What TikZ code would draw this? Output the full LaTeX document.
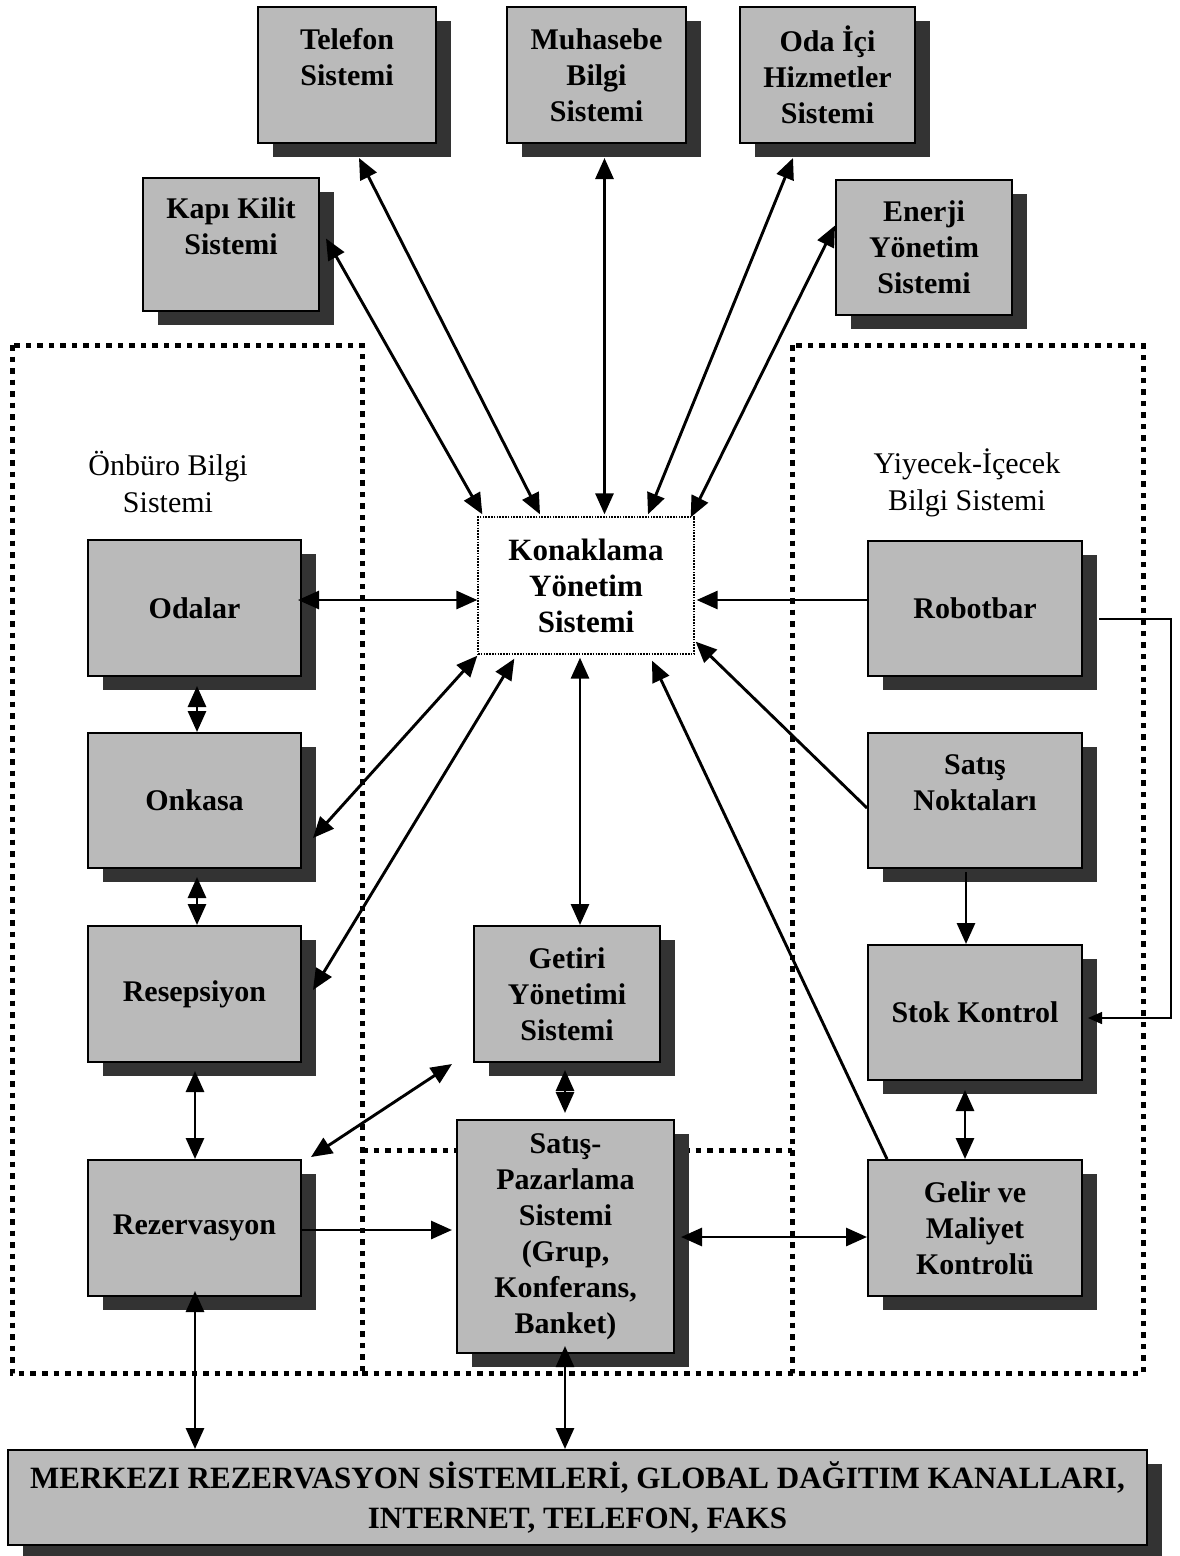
\documentclass[tikz,border=0pt]{standalone}
\usepackage{fontspec}
\setmainfont{Liberation Serif}
\usetikzlibrary{arrows.meta,shadows}

\newcommand\bxfont{\fontsize{30}{36}\selectfont\bfseries}
\newcommand\kysfont{\fontsize{31}{36}\selectfont\bfseries}
\newcommand\grpfont{\fontsize{30}{37}\selectfont}
\newcommand\busfont{\fontsize{31}{40}\selectfont\bfseries}

\tikzset{
  sysbox/.style={draw=black, line width=2pt, fill=black!27,
    minimum width=214pt, minimum height=136pt, inner sep=0pt,
    align=center, font=\bxfont,
    drop shadow={shadow xshift=15pt, shadow yshift=-14pt, fill=black!80, opacity=1}},
  kysbox/.style={draw=black, line width=1.3pt, dash pattern=on 1.6pt off 1.2pt,
    fill=white, minimum width=216pt, minimum height=137pt, inner sep=0pt,
    align=center, font=\kysfont},
  grouplabel/.style={align=center, font=\grpfont, inner sep=0pt},
  framedot/.style={line width=5pt, dash pattern=on 5.5pt off 6pt},
  link/.style={line width=2.9pt,
    {Triangle[length=21pt,width=18pt]}-{Triangle[length=21pt,width=18pt]}},
  linkto/.style={line width=2.9pt, -{Triangle[length=21pt,width=18pt]}},
  thinlink/.style={line width=1.5pt, -{Triangle[length=14pt,width=12pt]}}
}

\begin{document}
\begin{tikzpicture}[x=1pt,y=-1pt]
\fill[white] (0,0) rectangle (1179,1556);
\useasboundingbox (0,0) rectangle (1179,1556);

% dotted group frames
\draw[framedot] (12,345) rectangle (362,1373);
\draw[framedot] (792,345) rectangle (1143,1373);
\draw[framedot] (362,1150) -- (792,1150);
\draw[framedot] (362,1373) -- (792,1373);

% group titles
\node[grouplabel] (fo) at (168,482) {Önbüro Bilgi\\Sistemi};
\node[grouplabel] (fb) at (967,483) {Yiyecek-İçecek\\Bilgi Sistemi};

% outer systems
\node[sysbox, minimum width=178pt] (tel) at (347,75) {Telefon\\Sistemi\\~};
\node[sysbox, minimum width=179pt] (muh) at (596.5,75) {Muhasebe\\Bilgi\\Sistemi};
\node[sysbox, minimum width=175pt] (oda) at (827.5,75) {Oda İçi\\Hizmetler\\Sistemi};
\node[sysbox, minimum width=176pt, minimum height=133pt] (kapi) at (231,244.5) {Kapı Kilit\\Sistemi\\~};
\node[sysbox, minimum width=176pt, minimum height=135pt] (ener) at (924,247.5) {Enerji\\Yönetim\\Sistemi};

% central system
\node[kysbox] (kys) at (586,585.5) {Konaklama\\Yönetim\\Sistemi};

% front office
\node[sysbox, minimum width=213pt] (odalar) at (194.5,608) {Odalar};
\node[sysbox, minimum width=213pt, minimum height=135pt] (onkasa) at (194.5,800.5) {Onkasa};
\node[sysbox, minimum width=213pt] (resep) at (194.5,994) {Resepsiyon};
\node[sysbox, minimum width=213pt] (rezer) at (194.5,1228) {Rezervasyon};

% middle
\node[sysbox, minimum width=186pt] (getiri) at (567,994) {Getiri\\Yönetimi\\Sistemi};
\node[sysbox, minimum width=217pt, minimum height=233pt] (satis) at (565.5,1236.5)
  {Satış-\\Pazarlama\\Sistemi\\(Grup,\\Konferans,\\Banket)};

% food and beverage
\node[sysbox, minimum height=135pt] (robot) at (975,608.5) {Robotbar};
\node[sysbox, minimum height=135pt] (sn) at (975,800.5) {Satış\\Noktaları\\~};
\node[sysbox, minimum height=135pt] (stok) at (975,1012.5) {Stok Kontrol};
\node[sysbox] (gelir) at (975,1228) {Gelir ve\\Maliyet\\Kontrolü};

% distribution channels
\node[sysbox, minimum width=1139pt, minimum height=95pt, font=\busfont] (bus) at (577.5,1497.5)
  {MERKEZI REZERVASYON SİSTEMLERİ, GLOBAL DAĞITIM KANALLARI,\\INTERNET, TELEFON, FAKS};

% links to the central system
\draw[link] ([shift={(6,-6)}]kapi.east) -- ([shift={(5,-2)}]kys.north west);
\draw[link] ([shift={(12,14)}]tel.south) -- ([shift={(-46,-2)}]kys.north);
\draw[link] ([shift={(8,14)}]muh.south) -- ([shift={(18.5,-2)}]kys.north);
\draw[link] ([shift={(-34.5,14)}]oda.south) -- ([shift={(62,-2)}]kys.north);
\draw[link] ([shift={(0,-22)}]ener.west) -- ([shift={(-4,1)}]kys.north east);
\draw[link] ([shift={(-4,-8)}]odalar.east) -- ([shift={(0,14.5)}]kys.west);
\draw[link] ([shift={(11,37.5)}]onkasa.east) -- ([shift={(0,1)}]kys.south west);
\draw[link] ([shift={(11,-4)}]resep.east) -- ([shift={(37,4)}]kys.south west);
\draw[linkto] ([shift={(0,-8.5)}]robot.west) -- ([shift={(2,14.5)}]kys.east);
\draw[linkto] ([shift={(0,7.5)}]sn.west) -- ([shift={(1,-13)}]kys.south east);
\draw[linkto] ([shift={(20,0)}]gelir.north west) -- ([shift={(66,6)}]kys.south);
\draw[link] ([shift={(-6,3)}]kys.south) -- ([shift={(13,0)}]getiri.north);

% front office chain
\draw[link] ([shift={(2.5,9)}]odalar.south) -- ([shift={(2.5,0)}]onkasa.north);
\draw[link] ([shift={(2.5,8)}]onkasa.south) -- ([shift={(2.5,0)}]resep.north);
\draw[link] ([shift={(0.5,8)}]resep.south) -- ([shift={(0.5,0)}]rezer.north);
\draw[link] ([shift={(9,-2)}]rezer.north east) -- ([shift={(-21,1)}]getiri.south west);
\draw[linkto] ([shift={(0,2)}]rezer.east) -- ([shift={(-4,-6.5)}]satis.west);

% middle and food and beverage chain
\draw[link] ([shift={(-2,7)}]getiri.south) -- ([shift={(-0.5,-6)}]satis.north);
\draw[link] ([shift={(6,0.5)}]satis.east) -- ([shift={(0,9)}]gelir.west);
\draw[linkto] ([shift={(-9,3)}]sn.south) -- ([shift={(-9,0)}]stok.north);
\draw[thinlink] ([shift={(16,10.5)}]robot.east) -- ++(72,0) |- ([shift={(5,5.5)}]stok.east);
\draw[link] ([shift={(-10,9)}]stok.south) -- ([shift={(-10,0)}]gelir.north);

% links to the distribution channels
\draw[link] ([shift={(0.5,-6)}]rezer.south) -- ([shift={(-382.5,0)}]bus.north);
\draw[link] ([shift={(-0.5,-8)}]satis.south) -- ([shift={(-12.5,0)}]bus.north);
\end{tikzpicture}
\end{document}
